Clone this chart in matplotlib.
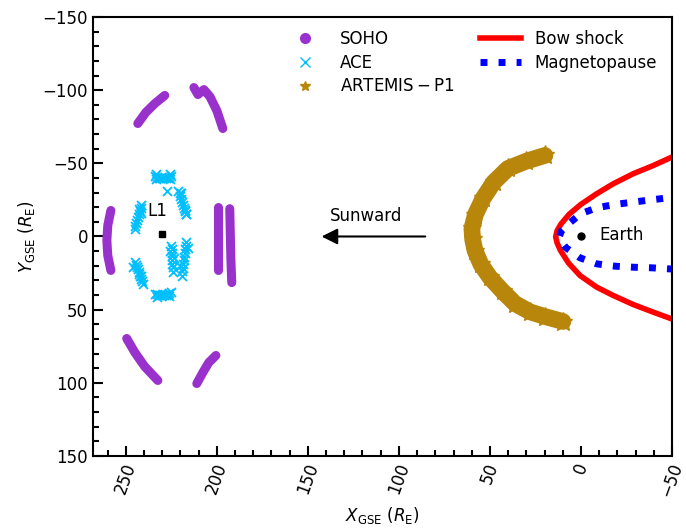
import matplotlib
matplotlib.use('Agg')
from matplotlib import pyplot as plt
from matplotlib.lines import Line2D
import matplotlib.ticker as ticker

# SOHO halo orbit pieces (X, Y in R_E)
soho_x = [
    [258.2, 259.9, 260.4, 259.9, 258.2],
    [243.4, 239.0, 234.0, 228.6],
    [212.6, 210.4, 207.1, 203.8, 200.0, 196.7],
    [199.5, 199.5, 199.5, 199.5],
    [192.9, 192.6, 192.3, 191.8],
    [249.5, 245.0, 239.6, 232.4],
    [211.0, 207.7, 204.4, 200.5],
]
soho_y = [
    [-17.8, -7.5, 2.7, 13.0, 23.2],
    [-77.2, -84.8, -90.9, -96.4],
    [-101.8, -97.0, -100.4, -95.6, -86.0, -73.8],
    [-20.0, -5.0, 10.0, 23.0],
    [-19.0, -2.0, 15.0, 31.5],
    [69.7, 79.3, 88.9, 98.4],
    [100.5, 93.0, 86.1, 81.3],
]

# ACE positions (clusters around L1)
ace_x = [234, 233, 232, 231, 230, 229, 228, 227, 226, 225, 233.5, 225.5, 233.5, 225.5,
         227.3,
         221.3, 220.5, 220, 219.5, 219, 218.5, 218, 217.5, 217, 216.7, 219.5, 217.5,
         241.4, 241.8, 242.3, 242.8, 243.3, 243.8, 244.3, 244.8, 245, 243, 241.5,
         224.9, 224.8, 224.7, 224.6, 224.5, 224.4, 224.2, 224, 225.8, 223.5,
         216.7, 217, 217.3, 217.6, 217.9, 218.2, 218.5, 218.8, 219.1, 219.4, 215.8, 220,
         245, 244.5, 244, 243.5, 243, 242.5, 242, 241.5, 241, 240.5, 246, 241.5,
         234, 233, 232, 231, 230, 229, 228, 227, 226, 224.9, 233, 226.5]
ace_y = [-41, -40.5, -40, -40, -40, -40, -40, -40, -40.5, -41, -39, -39, -43, -43,
         -31.4,
         -31.4, -29.5, -27.5, -25.5, -23.5, -21.5, -19.5, -17.5, -15.5, -15.5, -30, -18,
         -21.2, -19.5, -17.5, -15.5, -13.5, -11.5, -9.5, -7.5, -5.2, -19, -16,
         6.2, 8.5, 11, 13.5, 16, 18.5, 21, 24.4, 10, 15,
         3.9, 6.3, 8.8, 11.3, 13.8, 16.3, 18.8, 21.3, 23.8, 26.7, 8, 20,
         17.6, 19.2, 20.8, 22.4, 24, 25.6, 27.2, 28.8, 30.4, 32.3, 21, 27,
         39.2, 39.5, 40, 40.3, 40.3, 40, 39.7, 39.3, 38.8, 38.1, 41.5, 40.5]

# ARTEMIS-P1 crescent
artemis_x = [19.8, 30.0, 40.1, 48.0, 53.8, 58.0, 59.9, 59.5, 58.2, 55.0, 50.0, 43.0, 36.3, 28.0, 19.8, 9.9]
artemis_y = [-55.4, -51.5, -46.5, -37.0, -26.0, -15.0, -5.5, 2.0, 9.6, 19.0, 28.0, 37.5, 45.8, 51.5, 54.7, 58.1]

# bow shock and magnetopause
bs_x = [-55, -49.8, -39.7, -28.7, -17.7, -8.6, 0.2, 6.5, 11.0, 13.1, 13.9,
        13.1, 11.3, 6.8, 0.5, -8.6, -17.7, -28.7, -39.7, -49.8, -55]
bs_y = [-56.5, -54.2, -48.5, -42.9, -36.0, -29.2, -21.8, -15.2, -8.5, -4.0, 0.2,
        4.4, 9.5, 18.2, 26.7, 34.6, 40.3, 46.5, 51.7, 56.3, 58.5]
mp_x = [-55, -48, -38.8, -28.7, -18.7, -8.6, 0.2, 7.9, 10.6, 11.9, 10.6, 8.2,
        0.5, -8.6, -18.7, -28.7, -38.8, -48, -55]
mp_y = [-27.2, -26.4, -25.1, -23.5, -21.9, -19.6, -15.5, -7.5, -4.1, 0.0, 3.9, 7.7,
        14.6, 18.7, 20.3, 21.0, 21.4, 22.1, 22.5]

l1 = (230, -2)
earth = (0, 0)

soho_c = '#9932CC'
ace_c = '#00BFFF'
art_c = '#B8860B'

plt.rcParams['font.size'] = 12
fig = plt.figure(figsize=(6.86, 5.28), dpi=100)
ax = fig.add_axes([0.1356, 0.1364, 0.844, 0.8314])

for xs, ys in zip(soho_x, soho_y):
    ax.plot(xs, ys, color=soho_c, lw=6.5, solid_capstyle='round', solid_joinstyle='round')

ax.scatter(ace_x, ace_y, marker='x', color=ace_c, s=42, lw=1.3)

ax.plot(artemis_x, artemis_y, color=art_c, lw=12, solid_capstyle='round', solid_joinstyle='round')
ax.plot(artemis_x, artemis_y, '*', color=art_c, ms=14)

ax.plot(bs_x, bs_y, color='red', lw=4, solid_joinstyle='round')
ax.plot(mp_x, mp_y, color='blue', lw=5, dashes=(1, 1.6))

ax.plot(*l1, 's', color='black', ms=4)
ax.text(l1[0] + 8, l1[1] - 12, 'L1', fontsize=12)
ax.plot(*earth, 'o', color='black', ms=5)
ax.text(earth[0] - 10, earth[1] - 1, 'Earth', fontsize=12, va='center')

ax.annotate('', xy=(144, 0), xytext=(84, 0),
            arrowprops=dict(arrowstyle='-|>', color='black', lw=1.5, mutation_scale=24))
ax.text(118, -14, 'Sunward', fontsize=12, ha='center', va='center')

ax.set_xlim(268, -50)
ax.set_ylim(150, -150)
ax.xaxis.set_major_locator(ticker.MultipleLocator(50))
ax.xaxis.set_minor_locator(ticker.MultipleLocator(10))
ax.yaxis.set_major_locator(ticker.MultipleLocator(50))
ax.yaxis.set_minor_locator(ticker.MultipleLocator(10))
ax.tick_params(which='both', direction='in', width=1.5)
ax.tick_params(which='major', length=7, labelsize=12)
ax.tick_params(which='minor', length=4)
for lbl in ax.get_xticklabels():
    lbl.set_rotation(70)
for s in ax.spines.values():
    s.set_linewidth(1.5)

ax.set_xlabel(r'$X_{\rm GSE}$ ($R_{\rm E}$)', fontsize=12)
ax.set_ylabel(r'$Y_{\rm GSE}$ ($R_{\rm E}$)', fontsize=12)

handles = [
    Line2D([], [], marker='o', ls='None', color=soho_c, ms=7),
    Line2D([], [], marker='x', ls='None', color=ace_c, ms=7),
    Line2D([], [], marker='*', ls='None', color=art_c, ms=7),
    Line2D([], [], color='red', lw=4),
    Line2D([], [], color='blue', lw=5, dashes=(1, 1.6)),
]
labels = ['SOHO', 'ACE', r'$\rm ARTEMIS-P1$', 'Bow shock', 'Magnetopause']
ax.legend(handles, labels, ncol=2, frameon=False, loc='upper right',
          bbox_to_anchor=(1.0, 1.005), fontsize=12, columnspacing=1.5,
          handlelength=2.5, labelspacing=0.35)

fig.savefig('out.png', dpi=100)
